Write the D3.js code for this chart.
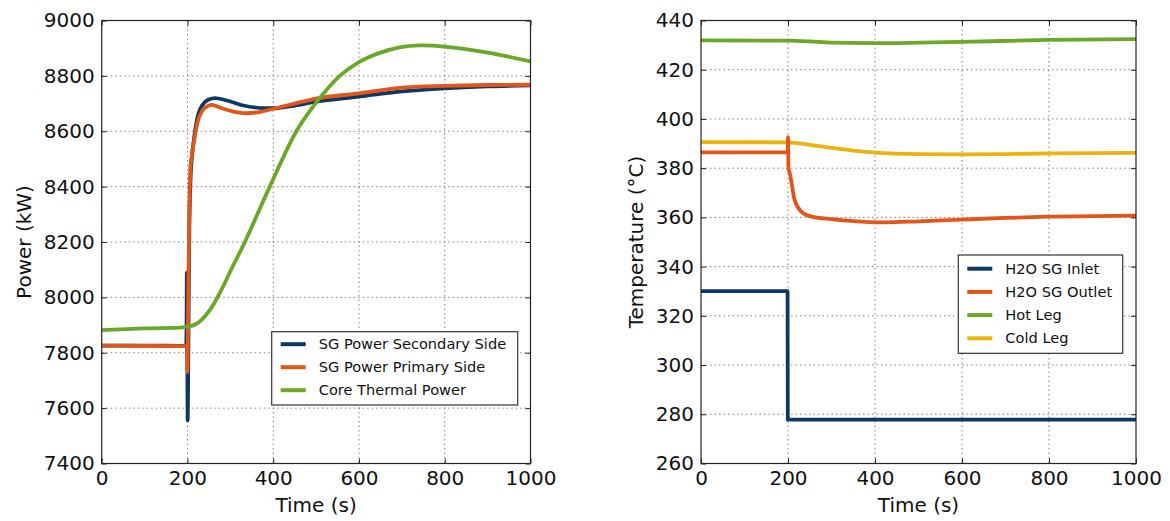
<!DOCTYPE html>
<html>
<head>
<meta charset="utf-8">
<script src="https://cdn.jsdelivr.net/npm/d3@7"></script>
<style>
  body { margin: 0; background: #fff; }
  text { font-family: "DejaVu Sans", sans-serif; fill: #111; }
</style>
</head>
<body>
<div id="chart"></div>
<script>
// ---- data ----
const xTicks = [0, 200, 400, 600, 800, 1000];
const powerTicks = [7400, 7600, 7800, 8000, 8200, 8400, 8600, 8800, 9000];
const tempTicks = [260, 280, 300, 320, 340, 360, 380, 400, 420, 440];

// left panel: power (kW)
const secTime = [0, 100, 197, 198, 198.6, 199.4, 200.5, 202, 204, 207, 210, 215, 222, 235, 250, 264, 290, 330, 384, 405, 450, 500, 600, 695, 800, 900, 1000];
const secPower = [7826, 7826, 7825, 7900, 8090, 7900, 7556, 7800, 8200, 8420, 8500, 8570, 8640, 8695, 8715, 8720, 8712, 8693, 8683, 8683, 8693, 8707, 8725, 8743, 8755, 8762, 8766];

const priTime = [0, 100, 199.3, 200, 201.5, 204, 207, 210, 216, 224, 235, 246, 256, 280, 310, 334, 370, 405, 450, 500, 600, 695, 800, 900, 1000];
const priPower = [7826, 7825, 7824, 7730, 7950, 8280, 8470, 8510, 8570, 8635, 8675, 8690, 8695, 8683, 8670, 8665, 8670, 8683, 8700, 8718, 8737, 8757, 8764, 8767, 8768];

const coreTime = [0, 100, 190, 210, 228, 255, 280, 305, 334, 392, 454, 497, 555, 600, 650, 695, 740, 800, 900, 1000];
const corePower = [7882, 7888, 7892, 7897, 7912, 7960, 8030, 8110, 8200, 8400, 8600, 8697, 8800, 8850, 8884, 8903, 8910, 8906, 8884, 8852];

// right panel: temperature (°C)
const inletTime = [0, 199, 199.6, 1000];
const inletTemp = [330, 330, 277.8, 277.8];

const outletTime = [0, 199.4, 200, 201, 204, 207, 215, 234, 257, 300, 350, 420, 500, 600, 700, 800, 900, 1000];
const outletTemp = [386.4, 386.4, 392.6, 380, 378, 375.3, 367.2, 361.8, 360.2, 359.3, 358.5, 358.0, 358.4, 359.1, 359.8, 360.3, 360.5, 360.7];

const hotTime = [0, 200, 250, 300, 400, 500, 600, 800, 1000];
const hotTemp = [431.9, 431.8, 431.5, 431.0, 430.8, 431.0, 431.3, 432.1, 432.4];

const coldTime = [0, 200, 250, 300, 400, 500, 600, 700, 800, 1000];
const coldTemp = [390.6, 390.5, 389.5, 388.2, 386.3, 385.7, 385.6, 385.7, 386.0, 386.2];

const monotone = d3.curveMonotoneX;
const smooth = d3.curveCatmullRom.alpha(0.5);

const powerSeries = [
    { name: "SG Power Secondary Side", t: secTime, v: secPower, color: "#0e3766", curve: monotone },
    { name: "SG Power Primary Side", t: priTime, v: priPower, color: "#e3561a", curve: monotone },
    { name: "Core Thermal Power", t: coreTime, v: corePower, color: "#6ba82a", curve: smooth }
];
const tempSeries = [
    { name: "H2O SG Inlet", t: inletTime, v: inletTemp, color: "#0e3766", curve: d3.curveLinear },
    { name: "Cold Leg", t: coldTime, v: coldTemp, color: "#eab30f", curve: monotone },
    { name: "H2O SG Outlet", t: outletTime, v: outletTemp, color: "#e3561a", curve: monotone },
    { name: "Hot Leg", t: hotTime, v: hotTemp, color: "#6ba82a", curve: monotone }
];
const tempLegendOrder = ["H2O SG Inlet", "H2O SG Outlet", "Hot Leg", "Cold Leg"];

const width = 1170;
const height = 521;

const svg = d3.select("#chart")
    .append("svg")
    .attr("width", width)
    .attr("height", height)
    .attr("viewBox", [0, 0, width, height]);

function drawPanel(p) {
    const x = d3.scaleLinear().domain([0, 1000]).range([p.left, p.right]);
    const y = d3.scaleLinear().domain(p.yDomain).range([p.bottom, p.top]);

    const g = svg.append("g");

    // dotted grid
    g.append("g").selectAll("line")
        .data(xTicks.slice(1, -1))
        .join("line")
        .attr("x1", (d) => x(d)).attr("x2", (d) => x(d))
        .attr("y1", p.top).attr("y2", p.bottom)
        .attr("stroke", "#808080").attr("stroke-width", 1)
        .attr("stroke-dasharray", "1.5,3");
    g.append("g").selectAll("line")
        .data(p.yTicks.slice(1, -1))
        .join("line")
        .attr("y1", (d) => y(d)).attr("y2", (d) => y(d))
        .attr("x1", p.left).attr("x2", p.right)
        .attr("stroke", "#808080").attr("stroke-width", 1)
        .attr("stroke-dasharray", "1.5,3");

    // lines
    const clipId = "clip" + p.id;
    svg.append("clipPath").attr("id", clipId)
        .append("rect")
        .attr("x", p.left).attr("y", p.top)
        .attr("width", p.right - p.left).attr("height", p.bottom - p.top);

    g.append("g").attr("clip-path", `url(#${clipId})`)
        .selectAll("path")
        .data(p.series)
        .join("path")
        .attr("fill", "none")
        .attr("stroke", (d) => d.color)
        .attr("stroke-width", 3.8)
        .attr("stroke-linejoin", "round")
        .attr("d", (d) => d3.line()
            .x((q) => x(q[0]))
            .y((q) => y(q[1]))
            .curve(d.curve)(d.t.map((t, i) => [t, d.v[i]])));

    // axes, ticks pointing inward on all four sides
    const styleAxis = (a) => {
        a.select(".domain").remove();
        a.selectAll(".tick line").attr("stroke", "#222");
        a.selectAll(".tick text").attr("font-size", "20px").attr("fill", "#111")
            .attr("font-family", "DejaVu Sans, sans-serif");
    };
    g.append("g")
        .attr("transform", `translate(0,${p.bottom})`)
        .call(d3.axisBottom(x).tickValues(xTicks).tickSize(-5).tickPadding(7).tickFormat(d3.format("d")))
        .call(styleAxis);
    g.append("g")
        .attr("transform", `translate(0,${p.top})`)
        .call(d3.axisTop(x).tickValues(xTicks).tickSize(-5).tickFormat(""))
        .call(styleAxis);
    g.append("g")
        .attr("transform", `translate(${p.left},0)`)
        .call(d3.axisLeft(y).tickValues(p.yTicks).tickSize(-5).tickPadding(7).tickFormat(d3.format("d")))
        .call(styleAxis);
    g.append("g")
        .attr("transform", `translate(${p.right},0)`)
        .call(d3.axisRight(y).tickValues(p.yTicks).tickSize(-5).tickFormat(""))
        .call(styleAxis);

    g.append("rect")
        .attr("x", p.left).attr("y", p.top)
        .attr("width", p.right - p.left).attr("height", p.bottom - p.top)
        .attr("fill", "none").attr("stroke", "#222").attr("stroke-width", 1.2);

    // axis titles
    g.append("text")
        .attr("x", (p.left + p.right) / 2)
        .attr("y", 512)
        .attr("text-anchor", "middle")
        .attr("font-size", "20px")
        .text("Time (s)");
    g.append("text")
        .attr("transform", `translate(${p.yLabelX},${(p.top + p.bottom) / 2}) rotate(-90)`)
        .attr("text-anchor", "middle")
        .attr("font-size", "20px")
        .text(p.yLabel);

    // legend
    const L = p.legend;
    const items = L.order.map((n) => p.series.find((s) => s.name === n));
    g.append("rect")
        .attr("x", L.x).attr("y", L.y)
        .attr("width", L.w).attr("height", L.h)
        .attr("fill", "#fff").attr("stroke", "#333").attr("stroke-width", 1.2);
    const rows = g.append("g").selectAll("g")
        .data(items)
        .join("g")
        .attr("transform", (d, i) => `translate(${L.x},${L.y + L.first + i * L.step})`);
    rows.append("line")
        .attr("x1", 9).attr("x2", 34)
        .attr("stroke", (d) => d.color).attr("stroke-width", 4);
    rows.append("text")
        .attr("x", 47).attr("y", 5)
        .attr("font-size", "14.6px")
        .text((d) => d.name);
}

drawPanel({
    id: "L",
    left: 101.7, right: 530.5, top: 20.5, bottom: 463.5,
    yDomain: [7400, 9000], yTicks: powerTicks,
    yLabel: "Power (kW)", yLabelX: 31,
    series: powerSeries,
    legend: { x: 271.7, y: 331.7, w: 246, h: 73.3, first: 12.5, step: 23,
              order: powerSeries.map((s) => s.name) }
});

drawPanel({
    id: "R",
    left: 701, right: 1136, top: 20.5, bottom: 463.5,
    yDomain: [260, 440], yTicks: tempTicks,
    yLabel: "Temperature (°C)", yLabelX: 643,
    series: tempSeries,
    legend: { x: 958.3, y: 255, w: 164.4, h: 98.3, first: 13.7, step: 23.2,
              order: tempLegendOrder }
});
</script>
</body>
</html>
